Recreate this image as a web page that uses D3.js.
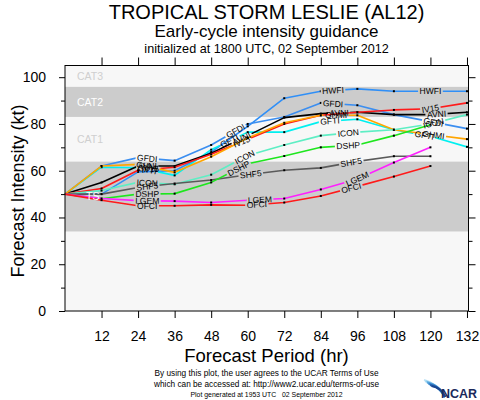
<!DOCTYPE html>
<html><head><meta charset="utf-8">
<script src="https://cdn.jsdelivr.net/npm/d3@7"></script>
<style>body{margin:0;background:#fff}svg{display:block}</style>
</head><body>
<script>
// ---------------- DATA ----------------
const hours = [0, 12, 24, 36, 48, 60, 72, 84, 96, 108, 120, 132];
const modelNames = ["HWFI", "GFDI", "GFTI", "AVNI", "IV15", "GHMI", "ICON", "SHF5", "DSHP", "LGEM", "OFCI"];
const modelColors = ["#2f8ff7", "#3b8ef0", "#00f0f0", "#000000", "#ff1a1a", "#ffa500", "#5eeec4", "#5a5a5a", "#1ee61e", "#ff20ff", "#ff1a1a"];
const HWFI = [50, 50, 59.5, 60, 68, 79, 91, 94, 95, 94, 94, 94];
const GFDI = [50, 62, 65.6, 64.3, 71, 80, 83, 89, 88, 84, 81, 78];
const GFTI = [50, 61.5, 61.3, 58, 69, 76.5, 76.5, 81, 82, 77.5, 74.7, 70.2];
const AVNI = [50, 55, 62, 62, 67.5, 75, 82.7, 84.4, 85, 84, 84, 85];
const IV15 = [50, 52.4, 60.2, 61.5, 67, 73.5, 80, 83.7, 85, 86, 86.5, 89];
const GHMI = [50, 62, 62.7, 59.3, 66, 74, 80.5, 83.7, 83.7, 77.5, 75.5, 73.5];
const ICON = [50, 51.5, 55, 54.2, 58.3, 66.5, 71, 75, 76.5, 77.5, 80, 84];
const SHF5 = [50, 50, 52.8, 54.5, 56, 58.3, 60.2, 61.2, 64, 66.2, 66.2];
const DSHP = [50, 48, 50, 50.2, 55, 63, 66.3, 70, 71, 75, 79.7];
const LGEM = [50, 48.1, 47.2, 47, 46.4, 47.4, 48.1, 52, 56.5, 63.5, 70];
const OFCI = [50, 47.4, 45, 45, 45.4, 45.2, 46.4, 49.2, 53.3, 57.5, 62];
const modelValues = [HWFI, GFDI, GFTI, AVNI, IV15, GHMI, ICON, SHF5, DSHP, LGEM, OFCI];
const labelHours = [[88, 120], [27, 56, 88, 121], [27, 54, 87, 118], [27, 58, 90, 122], [28, 58, 120],
  [27, 89, 121], [27, 59, 93, 121], [27, 61, 94], [27, 57, 93], [27, 64, 96], [27, 63, 94]];

const bandNames = ["", "TS", "CAT1", "CAT2", "CAT3"];
const bandLo = [0, 34, 64, 83, 96];
const bandHi = [34, 64, 83, 96, 105];
const yTicks = [0, 20, 40, 60, 80, 100];
const yMinor = [10, 30, 50, 70, 90];
const xTicks = [12, 24, 36, 48, 60, 72, 84, 96, 108, 120, 132];

const titleText = "TROPICAL STORM LESLIE (AL12)";
const subtitleText = "Early-cycle intensity guidance";
const initText = "initialized at 1800 UTC, 02 September 2012";
const footer1 = "By using this plot, the user agrees to the UCAR Terms of Use";
const footer2 = "which can be accessed at: http://www2.ucar.edu/terms-of-use";
const footer3 = "Plot generated at 1953 UTC   02 September 2012";

// ---------------- CHART ----------------
const svg = d3.select("body").append("svg").attr("width", 480).attr("height", 400)
  .style("font-family", "'Liberation Sans', Arial, Helvetica, sans-serif");
const defs = svg.append("defs");

const x = d3.scaleLinear().domain([0, 132.5]).range([65, 468.5]);
const y = d3.scaleLinear().domain([0, 105]).range([311, 65.5]);
const cx = 266.5;

// bands
const bandFill = ["#f7f7f7", "#cccccc", "#f7f7f7", "#cccccc", "#f7f7f7"];
const bandTextFill = ["#ffffff", "#ffffff", "#cfcfcf", "#ffffff", "#cfcfcf"];
const bandTextX = [77, 86, 77, 77, 77];
bandLo.forEach((lo, i) => {
  svg.append("rect").attr("x", x(0)).attr("width", x(132.5) - x(0))
    .attr("y", y(bandHi[i])).attr("height", y(lo) - y(bandHi[i])).attr("fill", bandFill[i]);
});

// lines
const line = d3.line().x((d, i) => x(hours[i])).y(d => y(d));
const linesG = svg.append("g");
const bandLabelG = svg.append("g");
const labelsG = svg.append("g").attr("font-size", 8.5).attr("fill", "#000");
modelValues.forEach((vals, i) => {
  const mask = defs.append("mask").attr("id", "mask" + i).attr("maskUnits", "userSpaceOnUse")
    .attr("x", 0).attr("y", 0).attr("width", 480).attr("height", 400);
  mask.append("rect").attr("width", 480).attr("height", 400).attr("fill", "#fff");
  const g = linesG.append("g").attr("mask", `url(#mask${i})`);
  g.append("path").datum(vals).attr("d", line).attr("fill", "none")
    .attr("stroke", modelColors[i]).attr("stroke-width", 1.6).attr("stroke-linejoin", "round");
  g.selectAll("rect.dot").data(vals.slice(1)).enter().append("rect")
    .attr("x", (d, k) => x(hours[k + 1]) - 1).attr("y", d => y(d) - 1)
    .attr("width", 2).attr("height", 2).attr("fill", "#000");
  labelHours[i].forEach(h => {
    let k = Math.min(Math.floor(h / 12), vals.length - 2);
    const t = (h - hours[k]) / 12;
    const v = vals[k] + t * (vals[k + 1] - vals[k]);
    const px = x(h), py = y(v);
    const ang = Math.atan2(y(vals[k + 1]) - y(vals[k]), x(hours[k + 1]) - x(hours[k])) * 180 / Math.PI;
    const tr = `translate(${px},${py}) rotate(${ang})`;
    const txt = labelsG.append("text").attr("transform", tr).attr("text-anchor", "middle")
      .attr("dy", "0.35em").text(modelNames[i]);
    const w = txt.node().getComputedTextLength();
    mask.append("rect").attr("transform", tr).attr("x", -w / 2 - 1.5).attr("y", -4.5)
      .attr("width", w + 3).attr("height", 9).attr("fill", "#000");
  });
});

// band labels on top of lines
bandLo.forEach((lo, i) => {
  if (bandNames[i]) {
    bandLabelG.append("text").attr("x", bandTextX[i]).attr("y", y((lo + bandHi[i]) / 2)).attr("dy", "0.36em")
      .attr("font-size", 10.5).attr("fill", bandTextFill[i]).text(bandNames[i]);
  }
});

// axes
const axG = svg.append("g").attr("font-family", "'Liberation Sans', Arial, Helvetica, sans-serif");
function clean(g) { g.select(".domain").remove(); g.selectAll("line").attr("stroke", "#000"); }
const left = axG.append("g").attr("transform", `translate(${x(0)},0)`)
  .call(d3.axisLeft(y).tickValues(yTicks).tickSize(6).tickPadding(13)).call(clean);
left.selectAll("text").attr("font-size", 14).attr("fill", "#000");
axG.append("g").attr("transform", `translate(${x(0)},0)`)
  .call(d3.axisLeft(y).tickValues(yMinor).tickSize(4).tickFormat("")).call(clean);
axG.append("g").attr("transform", `translate(${x(132.5)},0)`)
  .call(d3.axisRight(y).tickValues(yTicks).tickSize(7).tickFormat("")).call(clean);
axG.append("g").attr("transform", `translate(${x(132.5)},0)`)
  .call(d3.axisRight(y).tickValues(yMinor).tickSize(4).tickFormat("")).call(clean);
const bottom = axG.append("g").attr("transform", `translate(0,${y(0)})`)
  .call(d3.axisBottom(x).tickValues(xTicks).tickSize(7).tickPadding(13)).call(clean);
bottom.selectAll("text").attr("font-size", 14).attr("fill", "#000");
axG.append("g").attr("transform", `translate(0,${y(105)})`)
  .call(d3.axisTop(x).tickValues(xTicks).tickSize(8).tickFormat("")).call(clean);

// frame
svg.append("rect").attr("x", x(0)).attr("y", y(105)).attr("width", x(132.5) - x(0))
  .attr("height", y(0) - y(105)).attr("fill", "none").attr("stroke", "#000").attr("stroke-width", 1);

// titles
svg.append("text").attr("x", 18).attr("y", 191).attr("transform", "rotate(-90,18,191)")
  .attr("text-anchor", "middle").attr("dy", "0.35em").attr("font-size", 18).text("Forecast Intensity (kt)");
svg.append("text").attr("x", cx).attr("y", 362).attr("text-anchor", "middle").attr("font-size", 18.5)
  .text("Forecast Period (hr)");
svg.append("text").attr("x", cx).attr("y", 18.5).attr("text-anchor", "middle").attr("font-size", 20).text(titleText);
svg.append("text").attr("x", cx).attr("y", 37).attr("text-anchor", "middle").attr("font-size", 17).text(subtitleText);
svg.append("text").attr("x", cx).attr("y", 53).attr("text-anchor", "middle").attr("font-size", 12.6).text(initText);
svg.append("text").attr("x", cx).attr("y", 376).attr("text-anchor", "middle").attr("font-size", 9)
  .attr("textLength", 224).attr("lengthAdjust", "spacingAndGlyphs").text(footer1);
svg.append("text").attr("x", cx).attr("y", 386.5).attr("text-anchor", "middle").attr("font-size", 9)
  .attr("textLength", 225).attr("lengthAdjust", "spacingAndGlyphs").text(footer2);
svg.append("text").attr("x", cx).attr("y", 397).attr("text-anchor", "middle").attr("font-size", 7.5)
  .attr("textLength", 152).attr("lengthAdjust", "spacingAndGlyphs").attr("xml:space", "preserve").text(footer3);

// NCAR logo
const logo = svg.append("g");
const swooshCols = ["#bfe3f5", "#8ccbee", "#5aa9e0", "#3a86cc", "#2463b0", "#1a4590"];
swooshCols.forEach((c, i) => {
  logo.append("path").attr("d", `M${424 + i * 1.5},${380 + i * 1.2} Q${437 + i},${383 + i} ${445},${397}`)
    .attr("fill", "none").attr("stroke", c).attr("stroke-width", 2.2);
});
logo.append("text").attr("x", 441).attr("y", 397.5).attr("font-size", 13.5).attr("font-weight", "bold")
  .attr("fill", "#1b2a5c").attr("textLength", 36).attr("lengthAdjust", "spacingAndGlyphs").text("NCAR");
</script>
</body></html>
